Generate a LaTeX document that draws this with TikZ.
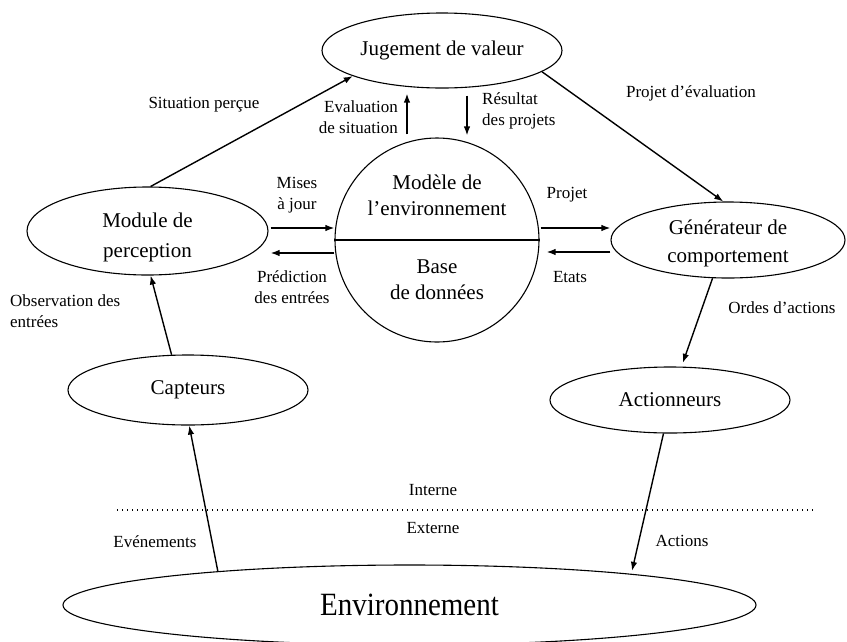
\documentclass[tikz,border=0pt]{standalone}
\usepackage{fontspec}
\setmainfont{Liberation Serif}
\usetikzlibrary{shapes.geometric,arrows.meta,calc}
\begin{document}
\begin{tikzpicture}[x=1pt,y=-1pt,
  ell/.style={draw, ellipse, line width=1.1pt, inner sep=0pt, align=center, font=\fontsize{21}{28}\selectfont},
  bigtxt/.style={inner sep=0pt, align=center, font=\fontsize{21}{26}\selectfont},
  arr/.style={line width=1.4pt, -{Latex[length=9pt,width=6.5pt]}},
  lbl/.style={font=\fontsize{17}{20.5}\selectfont, inner sep=0pt, align=center},
  sep/.style={line width=1.3pt, dash pattern=on 1.3pt off 3.7pt}]
\useasboundingbox (0,0) rectangle (847,641);

% nodes
\node[ell, minimum width=240pt, minimum height=75pt] (jug) at (442,50.5) {Jugement de valeur};
\node[draw, circle, line width=1.1pt, minimum size=204pt, inner sep=0pt] (mdl) at (437,240) {};
\draw[line width=1.1pt] (mdl.west) -- (mdl.east);
\node[bigtxt] (mdlt) at (437,195) {Modèle de\\l’environnement};
\node[bigtxt] (mdlb) at (437,280) {Base\\de données};
\node[ell, minimum width=241pt, minimum height=88pt] (mod) at (147.5,231) {};
\node[bigtxt, font=\fontsize{21}{30}\selectfont] (modt) at (147.5,237) {Module de\\perception};
\node[ell, minimum width=234pt, minimum height=76pt] (gen) at (728,240) {};
\node[bigtxt, font=\fontsize{21}{28}\selectfont] (gent) at (728,243) {Générateur de\\comportement};
\node[ell, minimum width=240pt, minimum height=70pt] (cap) at (188,390) {Capteurs};
\node[ell, minimum width=240pt, minimum height=66pt] (act) at (670,400) {Actionneurs};
\node[ell, minimum width=693pt, minimum height=80pt, font=\fontsize{29}{34}\selectfont] (env) at (409.5,605) {\scalebox{1}[1.12]{Environnement}};

% separator
\coordinate (dl) at (117,510);
\coordinate (dr) at (815,510);
\draw[sep] (dl) -- (dr);
\node[lbl] (int) at (433,490) {Interne};
\node[lbl] (ext) at (433,528) {Externe};

% connectors
\draw[arr] (mod.86) -- (jug.196);
\draw[arr] (jug.-12) -- (gen.97);
\draw[arr] ([shift={(-30pt,3pt)}]mdl.north) -- ([shift={(-35pt,-5pt)}]jug.south);
\draw[arr] ([shift={(25pt,-7pt)}]jug.south) -- ([shift={(30pt,2pt)}]mdl.north);
\draw[arr] ([shift={(2pt,3pt)}]mod.east) -- ([yshift=12pt]mdl.west);
\draw[arr] ([yshift=-13pt]mdl.west) -- ([shift={(2pt,-22pt)}]mod.east);
\draw[arr] ([shift={(1pt,12pt)}]mdl.east) -- ([yshift=12pt]gen.west);
\draw[arr] ([yshift=-12pt]gen.west) -- ([shift={(7pt,-12pt)}]mdl.east);
\draw[arr] (cap.115) -- (mod.274);
\draw[arr, shorten >=4pt] (gen.248) -- (act.71);
\draw[arr, shorten >=3pt] (act.259) -- (env.8);
\draw[arr] (env.170) -- (cap.272);

% labels
\node[lbl] (l1) at (204,105) {Situation perçue};
\node[lbl] (l2) at (691,93) {Projet d’évaluation};
\node[lbl, align=right, anchor=east] (l3) at (398,117) {Evaluation\\de situation};
\node[lbl, align=left, anchor=west] (l4) at (482,111) {Résultat\\des projets};
\node[lbl] (l5) at (297,195) {Mises\\à jour};
\node[lbl] (l6) at (292,287) {Prédiction\\des entrées};
\node[lbl] (l7) at (567,195) {Projet};
\node[lbl] (l8) at (570,277) {Etats};
\node[lbl, align=left, anchor=west] (l9) at (10,311) {Observation des\\entrées};
\node[lbl] (l10) at (782,308) {Ordes d’actions};
\node[lbl] (l11) at (155,542) {Evénements};
\node[lbl] (l12) at (682,541) {Actions};
\end{tikzpicture}
\end{document}
